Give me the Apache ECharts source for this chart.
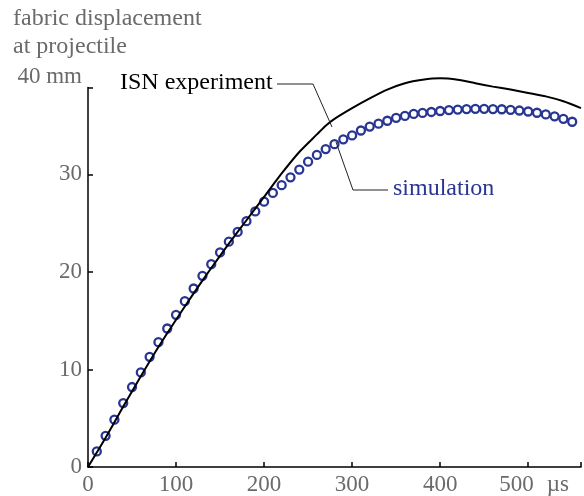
<!DOCTYPE html>
<html>
<head>
<meta charset="utf-8">
<script src="https://cdn.jsdelivr.net/npm/echarts@6/dist/echarts.min.js"></script>
<style>html,body{margin:0;padding:0;background:#fff;}#c{width:584px;height:496px;}</style>
</head>
<body>
<div id="c"></div>
<script>
// ---- data ----
const simTime = [10,20,30,40,50,60,70,80,90,100,110,120,130,140,150,160,170,180,190,200,
  210,220,230,240,250,260,270,280,290,300,310,320,330,340,350,360,370,380,390,400,
  410,420,430,440,450,460,470,480,490,500,510,520,530,540,550];
const simValues = [1.6,3.2,4.85,6.55,8.2,9.7,11.3,12.8,14.2,15.6,17.0,18.3,19.6,20.8,22.0,23.1,24.1,25.2,26.2,27.2,
  28.1,28.9,29.7,30.5,31.3,32.0,32.6,33.1,33.6,34.0,34.5,34.9,35.2,35.5,35.8,36.0,36.2,36.3,36.4,36.5,
  36.6,36.65,36.7,36.72,36.72,36.7,36.68,36.62,36.55,36.45,36.32,36.15,35.95,35.7,35.4];
const expTime = [0,20,40,60,80,100,120,140,160,180,200,220,240,260,270,280,300,320,340,360,380,400,420,440,460,480,500,520,540,560];
const expValues = [0,3.0,6.2,9.3,12.3,15.1,17.8,20.4,22.9,25.3,27.7,30.1,32.3,34.1,35.0,35.7,36.8,37.8,38.7,39.35,39.7,39.85,39.7,39.35,39.0,38.7,38.35,38.0,37.5,36.8];
const yTopTickLabel = '40 mm';
const xUnit = 'µs';
const titleLines = ['fabric displacement', 'at projectile'];
const expLabel = 'ISN experiment';
const simLabel = 'simulation';

const grey = '#6a6a6a';
const blue = '#283593';
const font = 'Liberation Serif, Times New Roman, serif';

const chart = echarts.init(document.getElementById('c'), null, {renderer: 'canvas'});
chart.setOption({
  animation: false,
  backgroundColor: '#fff',
  grid: {left: 88, top: 87.6, width: 508, height: 379.7, containLabel: false},
  xAxis: {
    type: 'value', min: 0, max: 560, interval: 100,
    axisLine: {show: true, lineStyle: {color: '#000', width: 1.5}},
    axisTick: {show: true, inside: true, length: 5, lineStyle: {color: '#000', width: 1.5}},
    splitLine: {show: false},
    axisLabel: {
      color: grey, fontSize: 23, fontFamily: font, margin: 6,
      showMaxLabel: true,
      formatter: v => (v % 100 !== 0) ? '' : (v === 500 ? '{n|500}{u|' + xUnit + '}' : String(v)),
      rich: {
        n: {color: grey, fontSize: 23, fontFamily: font, padding: [0, 13, 0, 12]},
        u: {color: grey, fontSize: 23, fontFamily: font}
      }
    }
  },
  yAxis: {
    type: 'value', min: 0, max: 38.9, interval: 10,
    axisLine: {show: true, lineStyle: {color: '#000', width: 1.5}},
    axisTick: {show: true, inside: true, length: 5, lineStyle: {color: '#000', width: 1.5}},
    splitLine: {show: false},
    axisLabel: {
      color: grey, fontSize: 23, fontFamily: font, margin: 6,
      showMaxLabel: true,
      formatter: v => (v > 35 ? '{t|' + yTopTickLabel + '}' : String(v)),
      rich: {t: {color: grey, fontSize: 23, fontFamily: font, padding: [0, 0, 22, 0]}}
    }
  },
  series: [
    {
      name: 'simulation', type: 'scatter', clip: false,
      data: simTime.map((t, i) => [t, simValues[i]]),
      symbol: 'circle', symbolSize: 8,
      itemStyle: {color: 'rgba(0,0,0,0)', borderColor: blue, borderWidth: 2.3, opacity: 1},
      z: 2
    },
    {
      name: 'ISN experiment', type: 'line', clip: false,
      data: expTime.map((t, i) => [t, expValues[i]]),
      showSymbol: false, smooth: 0.2,
      lineStyle: {color: '#000', width: 2},
      z: 3
    }
  ],
  graphic: [
    {type: 'text', left: 13, top: 7, style: {text: titleLines[0], fill: grey, font: '24px ' + font}},
    {type: 'text', left: 13, top: 35, style: {text: titleLines[1], fill: grey, font: '24px ' + font}},
    {type: 'text', x: 120, y: 83, style: {text: expLabel, fill: '#000', font: '24px ' + font, verticalAlign: 'middle', align: 'left'}},
    {type: 'text', x: 393, y: 189, style: {text: simLabel, fill: blue, font: '24px ' + font, verticalAlign: 'middle', align: 'left'}},
    {type: 'polyline', shape: {points: [[277, 84], [313, 84], [332, 127]]}, style: {stroke: '#222', lineWidth: 1, fill: null}, z: 10},
    {type: 'polyline', shape: {points: [[388, 190], [353, 190], [336, 142]]}, style: {stroke: '#222', lineWidth: 1, fill: null}, z: 10}
  ]
});
</script>
</body>
</html>
